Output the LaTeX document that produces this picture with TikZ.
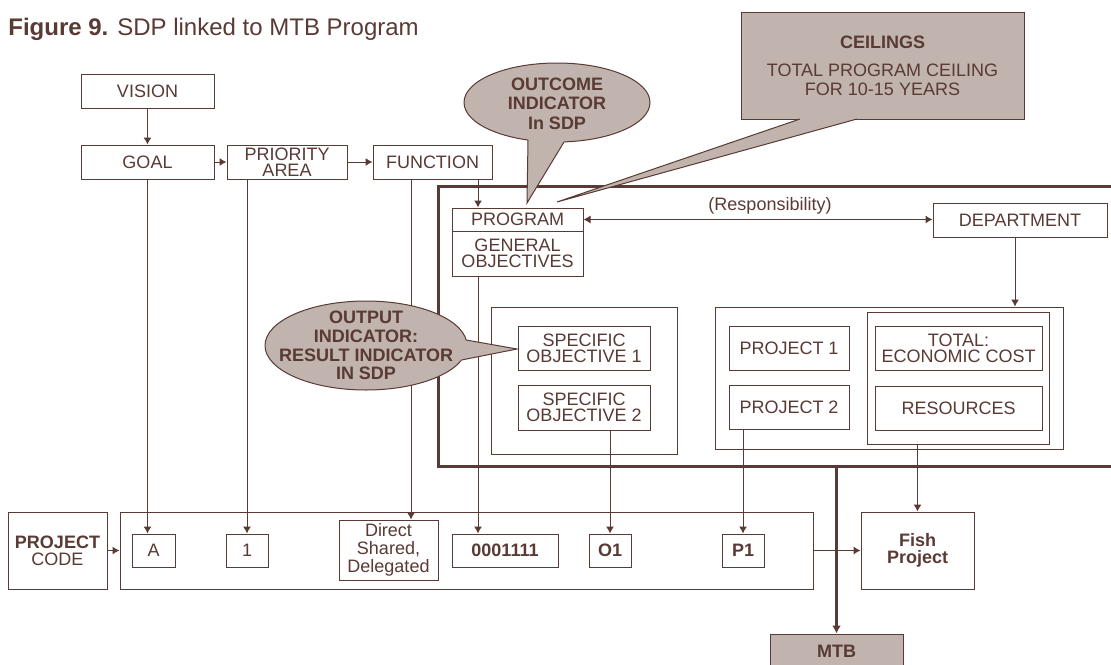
\documentclass[tikz,border=0pt]{standalone}
\usepackage{fontspec}
\setmainfont{Liberation Sans}
\usetikzlibrary{arrows.meta}
\definecolor{sdpbrown}{RGB}{89,58,52}
\definecolor{sdpgrey}{RGB}{193,179,173}

\begin{document}
\begin{tikzpicture}[x=0.5pt, y=-0.5pt,
        every node/.style={text=sdpbrown, align=center, inner sep=0pt,
            font=\fontsize{9}{8}\selectfont},
        box/.style={draw=sdpbrown, line width=0.5pt, fill=white},
        boxsize/.style 2 args={minimum width=#1, minimum height=#2},
        link/.style={draw=sdpbrown, line width=0.5pt, -{Latex[length=3.5pt,width=4pt]}},
        bigarrow/.style={draw=sdpbrown, line width=1.5pt, -{Latex[length=4pt,width=4.5pt]}},
        frame/.style={draw=sdpbrown, line width=1.5pt},
        callout/.style={draw=sdpbrown, fill=sdpgrey, line width=0.5pt},
        bubbletext/.style={font=\fontsize{9}{9.4}\selectfont\bfseries}]
        \useasboundingbox (0,0) rectangle (1111,664);

        % title
        \node[anchor=base west, font=\fontsize{12}{14}\selectfont] (title) at (8,35)
            {\textbf{Figure 9.} SDP linked to MTB Program};

        % SDP chain
        \node[box, boxsize={66.5pt}{17pt}] (vision)   at (147.5,91)  {VISION};
        \node[box, boxsize={66.5pt}{17pt}] (goal)     at (147.5,162) {GOAL};
        \node[box, boxsize={60pt}{17pt}]   (priority) at (287,162)   {PRIORITY\\AREA};
        \node[box, boxsize={59.5pt}{17pt}] (function) at (432.5,162) {FUNCTION};

        % program frame
        \draw[frame] (1111,186) -- (438,186) -- (438,466) -- (1111,466);
        \coordinate (framebottom) at (438,466);
        \node[box, boxsize={65.5pt}{11.5pt}] (program)    at (517.5,219.5) {PROGRAM};
        \node[box, boxsize={65.5pt}{22.5pt}] (genobj)     at (517.5,253.5) {GENERAL\\OBJECTIVES};
        \node[box, boxsize={87pt}{17pt}]     (department) at (1020,220)    {DEPARTMENT};
        \node (resp) at (770,206) {(Responsibility)};

        % objectives
        \node[box, boxsize={93pt}{73.5pt}] (objbox) at (584,380.5) {};
        \node[box, boxsize={66pt}{22pt}]   (so1)    at (584,348)   {SPECIFIC\\OBJECTIVE 1};
        \node[box, boxsize={66pt}{22.5pt}] (so2)    at (584,407.5) {SPECIFIC\\OBJECTIVE 2};

        % projects and cost
        \node[box, boxsize={174pt}{71pt}]  (projbox)   at (889,378)   {};
        \node[box, boxsize={91pt}{66pt}]   (cost)      at (958,378)   {};
        \node[box, boxsize={60pt}{22pt}]   (project1)  at (789,348)   {PROJECT 1};
        \node[box, boxsize={60pt}{22pt}]   (project2)  at (789,407)   {PROJECT 2};
        \node[box, boxsize={83.5pt}{22pt}] (total)     at (958.5,348) {TOTAL:\\ECONOMIC COST};
        \node[box, boxsize={83.5pt}{22pt}] (resources) at (958.5,408) {RESOURCES};

        % project code row
        \node[box, boxsize={49.5pt}{38.5pt}, font=\fontsize{9}{8.3}\selectfont] (code) at (57.5,550.5)
            {\textbf{PROJECT}\\CODE};
        \node[box, boxsize={346.5pt}{38.5pt}] (coderow) at (466.5,550.5) {};
        \node[box, boxsize={21.5pt}{16.5pt}] (a)     at (153.5,550.5) {A};
        \node[box, boxsize={21pt}{16.5pt}]   (one)   at (247,550.5)   {1};
        \node[box, boxsize={49.5pt}{30pt}, font=\fontsize{9}{9}\selectfont] (direct) at (388.5,550)
            {Direct\\Shared,\\Delegated};
        \node[box, boxsize={53pt}{16.5pt}]   (code0) at (505,550.5)   {\textbf{0001111}};
        \node[box, boxsize={21pt}{16.5pt}]   (o1)    at (610,550.5)   {\textbf{O1}};
        \node[box, boxsize={21pt}{16.5pt}]   (p1)    at (743,550.5)   {\textbf{P1}};
        \node[box, boxsize={56.5pt}{38.5pt}, font=\fontsize{9}{8.2}\selectfont\bfseries] (fish) at (917.5,550.5)
            {Fish\\Project};
        \node[box, fill=sdpgrey, boxsize={66.5pt}{17pt}] (mtb) at (836.5,651) {\textbf{MTB}};

        % connectors
        \coordinate (progin) at ([xshift=-19.75pt]program.north);
        \draw[link] (vision) -- (goal);
        \draw[link] (goal) -- (priority);
        \draw[link] (priority) -- (function);
        \draw[link] (function.south -| progin) -- (progin);
        \draw[link, {Latex[length=3.5pt,width=4pt]}-{Latex[length=3.5pt,width=4pt]}]
            (program.east) -- (program.east -| department.west);
        \draw[link] ([xshift=-2.5pt]department.south) -- ([xshift=-2.5pt]department.south |- projbox.north);
        \draw[link] (goal.south) -- (goal.south |- a.north);
        \draw[link] (priority.south -| one.north) -- (one.north);
        \draw[link] ([xshift=-10.75pt]function.south) -- ([xshift=-10.75pt]function.south |- direct.north);
        \draw[link] ([xshift=-19.75pt]genobj.south) -- ([xshift=-19.75pt]genobj.south |- code0.north);
        \draw[link] (so2.south -| o1.north) -- (o1.north);
        \draw[link] (project2.south -| p1.north) -- (p1.north);
        \draw[link] (cost.south -| fish.north) -- (fish.north);
        \draw[link] (code) -- (coderow);
        \draw[link] (coderow) -- (fish);
        \draw[bigarrow] (mtb.north |- framebottom) -- (mtb.north);

        % outcome indicator callout
        \filldraw[callout] (557,102.5) ellipse [x radius=46.5pt, y radius=19.75pt];
        \fill[sdpgrey] (526,130) -- (566,130) -- (564,142) -- (527,203) -- (528,140) -- cycle;
        \draw[callout, fill=none] (528,140) -- (527,203) -- (564,142);
        \node[bubbletext, font=\fontsize{9}{9.8}\selectfont\bfseries] (outcome) at (557,103.5)
            {OUTCOME\\INDICATOR\\In SDP};

        % output indicator callout
        \filldraw[callout] (366,345.5) ellipse [x radius=50.5pt, y radius=22.25pt];
        \fill[sdpgrey] (455,338) -- (466,340) -- (517,349) -- (461.5,360) -- (455,360) -- cycle;
        \draw[callout, fill=none] (466,340) -- (517,349) -- (461.5,360);
        \node[bubbletext] (output) at (366,345.5)
            {OUTPUT\\INDICATOR:\\RESULT INDICATOR\\IN SDP};

        % ceilings callout
        \node[callout, boxsize={141.5pt}{53.5pt}, font=\fontsize{9}{9.5}\selectfont] (ceilings) at (882.5,65.5)
            {\textbf{CEILINGS}\\[4.5pt]TOTAL PROGRAM CEILING\\FOR 10-15 YEARS};
        \fill[sdpgrey] (798,116) -- (859,116) -- (857,119) -- (557,202) -- (800,119) -- cycle;
        \draw[callout, fill=none] (800,119) -- (557,202) -- (857,119);
    \end{tikzpicture}
\end{document}
